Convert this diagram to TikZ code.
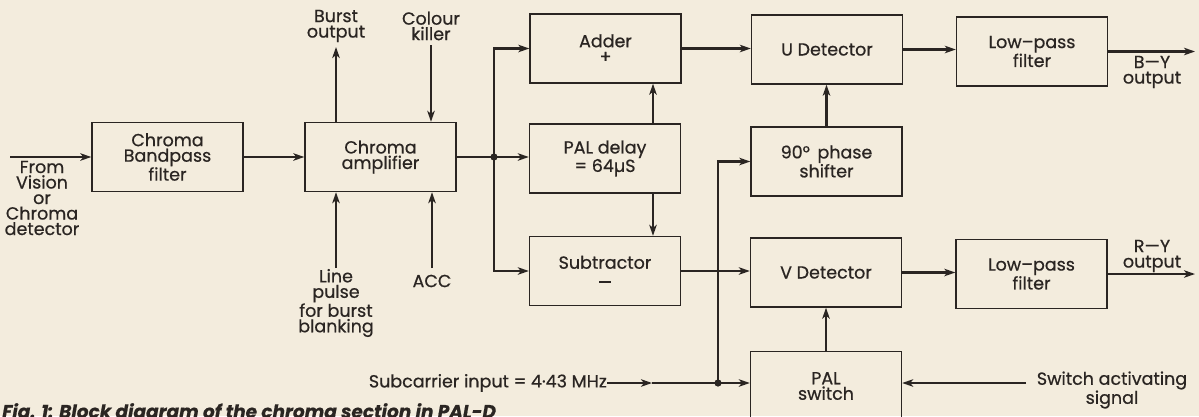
\documentclass[tikz,border=0pt]{standalone}
\usepackage{fontspec}
\setmainfont{Poppins}[FakeBold=0.6]
\usetikzlibrary{arrows.meta,calc}
\definecolor{paper}{HTML}{F3ECDD}
\definecolor{ink}{HTML}{2A2522}
\newcommand\dfont{\fontsize{17.5}{15.5}\selectfont}
\newcommand\capfont{\fontsize{18.5}{18}\selectfont\bfseries\itshape}
\newcommand\minusbar{\rule[3.5pt]{12pt}{2pt}}
\begin{document}
\begin{tikzpicture}[x=1pt,y=-1pt,
  blk/.style={draw=ink, line width=1.4pt, minimum width=151pt, minimum height=69pt, align=center, inner sep=0pt, text=ink, font=\dfont},
  lbl/.style={align=center, text=ink, font=\dfont, inner sep=0pt},
  wire/.style={draw=ink, line width=2.3pt},
  arr/.style={wire, -{Stealth[length=11pt,width=7.5pt,inset=3pt]}},
  dot/.style={fill=ink}
]
\path[use as bounding box, fill=paper] (0,0) rectangle (1199,416);

% blocks
\node[blk] (bpf) at (167.5,157) {Chroma\\Bandpass\\filter};
\node[blk] (amp) at (380.5,157) {Chroma\\amplifier};
\node[blk] (add) at (605.5,48.5) {Adder\\+};
\node[blk] (dly) at (605,158.5) {PAL delay\\= 64µS};
\node[blk] (sub) at (605,271) {Subtractor\\[2pt]\minusbar};
\node[blk] (ud) at (827,49.5) {U Detector};
\node[blk] (ps) at (826.5,161.5) {90°\, phase\\shifter};
\node[blk] (vd) at (826,272.5) {V Detector};
\node[blk] (lp1) at (1032,51.5) {Low–pass\\filter};
\node[blk] (lp2) at (1031.5,274) {Low–pass\\filter};
\node[blk] (pal) at (826,386) {PAL\\switch};

% labels
\node[lbl] (fromt) at (42,198) {From\\Vision\\or\\Chroma\\detector};
\node[lbl] (burstt) at (336,26) {Burst\\output};
\node[lbl] (killt) at (431,26) {Colour\\killer};
\node[lbl] (linet) at (336,303) {Line\\pulse\\for burst\\blanking};
\node[lbl] (acct) at (432,281) {ACC};
\node[lbl] (byt) at (1152,72) {B—Y\\output};
\node[lbl] (ryt) at (1152,256) {R—Y\\output};
\node[lbl, anchor=east] (sct) at (607,383) {Subcarrier input = 4·43 MHz};
\node[lbl] (swt) at (1112,390) {Switch activating\\signal};
\node[anchor=base west, inner sep=0pt, text=ink, font=\capfont] (cap) at (2,418) {Fig. 1: Block diagram of the chroma section in PAL-D};

% coordinates
\coordinate (in) at (10,157);
\coordinate (j1) at (494,157);
\coordinate (dx) at (653,0);
\coordinate (bo) at (336,47);
\coordinate (ck) at (431,45);
\coordinate (lpu) at (336,268);
\coordinate (acc) at (432,268);
\coordinate (by) at (1195,51.5);
\coordinate (ry) at (1195,274);
\coordinate (mid) at (652,383);
\coordinate (j2) at (718,383);
\coordinate (sw) at (1026,383);

% connectors
\draw[arr] (in) -- (bpf.west);
\draw[arr] (bpf.east) -- (amp.west);
\draw[wire] (amp.east) -- (j1);
\draw[arr] (j1) -- (j1 -| dly.west);
\draw[arr] (j1) |- (add.west);
\draw[arr] (j1) |- (sub.west);
\fill[dot] (j1) circle (3.6);
\draw[arr] (amp.north -| bo) -- (bo);
\draw[arr] (ck) -- (amp.north -| ck);
\draw[arr] (lpu) -- (amp.south -| lpu);
\draw[arr] (acc) -- (amp.south -| acc);
\draw[arr] (dly.north -| dx) -- (add.south -| dx);
\draw[arr] (dly.south -| dx) -- (sub.north -| dx);
\draw[arr] (add.east) -- (add.east -| ud.west);
\draw[arr] (ud.east) -- (ud.east -| lp1.west);
\draw[arr] (lp1.east) -- (by);
\draw[arr] (ps.north) -- (ps.north |- ud.south);
\draw[arr] (sub.east) -- (sub.east -| vd.west);
\draw[arr] (vd.east) -- (vd.east -| lp2.west);
\draw[arr] (lp2.east) -- (ry);
\draw[arr] (pal.north) -- (pal.north |- vd.south);
\draw[arr] (sct.east) -- (mid);
\draw[arr] (mid) -- (pal.west |- j2);
\draw[arr] (j2) |- (ps.west);
\fill[dot] (j2) circle (3.6);
\draw[arr] (sw) -- (sw -| pal.east);
\end{tikzpicture}
\end{document}
